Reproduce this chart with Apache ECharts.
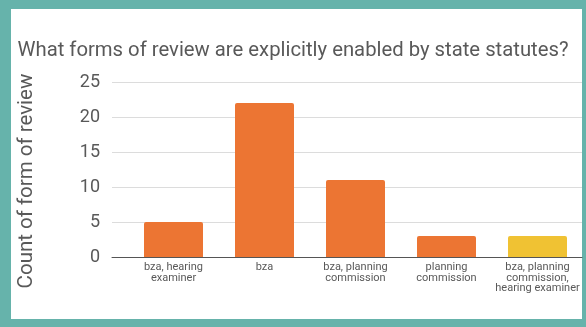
<!DOCTYPE html>
<html>
<head>
<meta charset="utf-8">
<script src="https://cdn.jsdelivr.net/npm/echarts@6/dist/echarts.min.js"></script>
<style>
  html, body { margin: 0; padding: 0; }
  #frame { position: relative; width: 586px; height: 327px; background: #66b3ab; overflow: hidden; }
  #panel { position: absolute; left: 11px; top: 9px; width: 571px; height: 310px; background: #ffffff; }
  #chart { position: absolute; left: 0; top: 0; width: 586px; height: 327px; }
</style>
</head>
<body>
<div id="frame">
  <div id="panel"></div>
  <div id="chart"></div>
</div>
<script>
// Review forms and how many state statutes enable each
const categories = [
  'bza, hearing\nexaminer',
  'bza',
  'bza, planning\ncommission',
  'planning\ncommission',
  'bza, planning\ncommission,\nhearing examiner'
];
const counts = [5, 22, 11, 3, 3];
const barColors = ['#ec7533', '#ec7533', '#ec7533', '#ec7533', '#f0c233'];
const yTicks = { min: 0, max: 25, interval: 5 };

const textColor = '#595959';
const fontFamily = 'Roboto, "Liberation Sans", sans-serif';

const chart = echarts.init(document.getElementById('chart'), null, { renderer: 'canvas' });

chart.setOption({
  backgroundColor: 'transparent',
  animation: false,
  title: {
    text: 'What forms of review are explicitly enabled by state statutes?',
    left: 'center',
    top: 36,
    textStyle: { fontFamily, fontSize: 20.3, fontWeight: 'normal', color: textColor }
  },
  grid: [
    // plot frame: gridlines and baseline
    { left: 112, right: 4, top: 82, bottom: 70, containLabel: false },
    // bar area
    { left: 128, right: 3, top: 82, bottom: 70, containLabel: false }
  ],
  xAxis: [
    {
      gridIndex: 0, type: 'category', data: categories,
      axisLine: { show: true, lineStyle: { color: '#555555', width: 1 } },
      axisTick: { show: false }, axisLabel: { show: false }
    },
    {
      gridIndex: 1, type: 'category', data: categories,
      axisLine: { show: false }, axisTick: { show: false },
      axisLabel: {
        interval: 0, margin: 5, fontFamily, fontSize: 11, lineHeight: 10.5,
        color: textColor, align: 'center'
      }
    }
  ],
  yAxis: [
    {
      gridIndex: 0, type: 'value', min: yTicks.min, max: yTicks.max, interval: yTicks.interval,
      name: 'Count of form of review', nameLocation: 'middle', nameGap: 75,
      nameTextStyle: { fontFamily, fontSize: 20.5, color: textColor, padding: [0, 23, 0, 0] },
      axisLine: { show: false }, axisTick: { show: false },
      axisLabel: { margin: 12, fontFamily, fontSize: 18, color: textColor },
      splitLine: { lineStyle: { color: '#dcdcdc', width: 1 } }
    },
    {
      gridIndex: 1, type: 'value', min: yTicks.min, max: yTicks.max, interval: yTicks.interval,
      axisLine: { show: false }, axisTick: { show: false },
      axisLabel: { show: false }, splitLine: { show: false }
    }
  ],
  series: [{
    type: 'bar',
    xAxisIndex: 1, yAxisIndex: 1,
    barWidth: 59,
    data: counts.map((v, i) => ({
      value: v,
      itemStyle: { color: barColors[i], borderRadius: [2, 2, 0, 0] }
    }))
  }]
});
</script>
</body>
</html>
